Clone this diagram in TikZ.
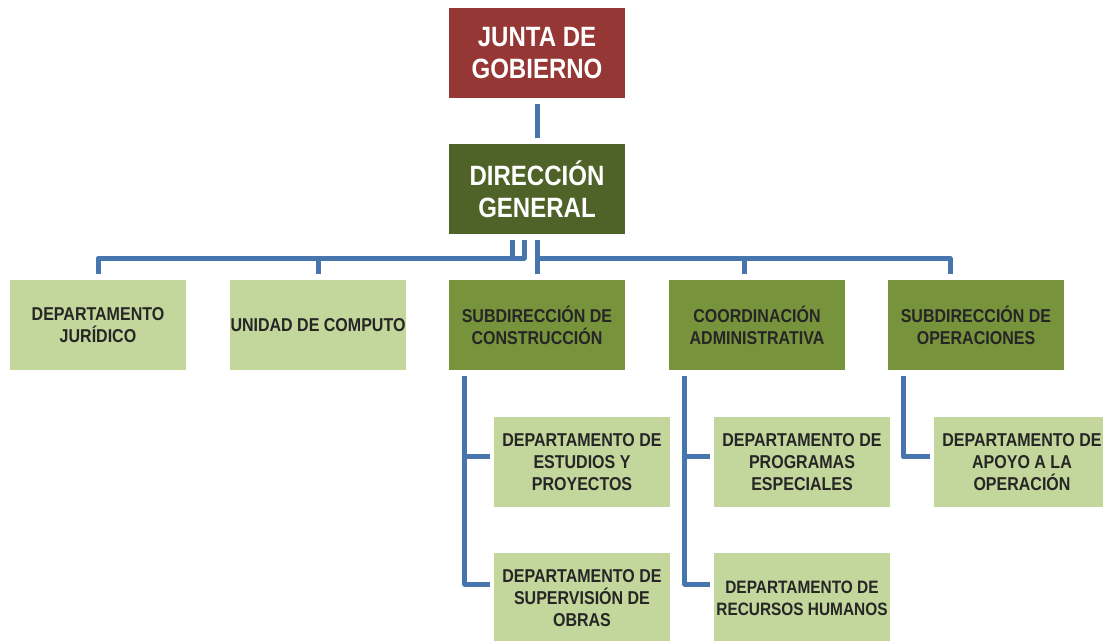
\documentclass[tikz,border=0pt]{standalone}
\usepackage{fontspec}
\setmainfont[FakeStretch=0.86]{Liberation Sans}
\definecolor{juntared}{HTML}{953735}
\definecolor{dirgreen}{HTML}{4F6228}
\definecolor{midgreen}{HTML}{77933C}
\definecolor{lightgreen}{HTML}{C3D69B}
\definecolor{linkblue}{HTML}{4775AE}
\definecolor{darktext}{HTML}{262626}
\begin{document}
\begin{tikzpicture}[x=0.02cm,y=-0.02cm,
    box/.style={rectangle,minimum width=3.52cm,minimum height=1.8cm,inner xsep=0pt,inner ysep=1pt,align=center},
    conn/.style={draw=linkblue,line width=0.1cm,line join=round,shorten <=0.12cm,shorten >=0.12cm}]

        \clip (0,0) rectangle (1103,641);

        \begin{scope}[every node/.style={box,text=white,font=\fontsize{15.9}{18.1}\selectfont\bfseries}]
          \node[fill=juntared] (junta)     at (537,53)  {JUNTA DE\\GOBIERNO};
          \node[fill=dirgreen] (direccion) at (537,189) {DIRECCIÓN\\GENERAL};
        \end{scope}

        \begin{scope}[every node/.style={box,text=darktext,font=\fontsize{10.6}{12.5}\selectfont\bfseries}]
          \node[fill=lightgreen] (juridico)     at (98,325)  {DEPARTAMENTO\\JURÍDICO};
          \node[fill=lightgreen] (computo)      at (318,325) {UNIDAD DE COMPUTO};
          \node[fill=midgreen]   (construccion) at (537,325) {SUBDIRECCIÓN DE\\CONSTRUCCIÓN};
          \node[fill=midgreen]   (coordinacion) at (757,325) {COORDINACIÓN\\ADMINISTRATIVA};
          \node[fill=midgreen]   (operaciones)  at (976,325) {SUBDIRECCIÓN DE\\OPERACIONES};
          \node[fill=lightgreen] (estudios)     at (582,462) {DEPARTAMENTO DE\\ESTUDIOS Y\\PROYECTOS};
          \node[fill=lightgreen] (supervision)  at (582,598) {DEPARTAMENTO DE\\SUPERVISIÓN DE\\OBRAS};
          \node[fill=lightgreen] (programas)    at (802,462) {DEPARTAMENTO DE\\PROGRAMAS\\ESPECIALES};
          \node[fill=lightgreen,font=\fontsize{10.2}{12.5}\selectfont\bfseries]
                                 (recursos)     at (802,598) {DEPARTAMENTO DE\\RECURSOS HUMANOS};
          \node[fill=lightgreen] (apoyo)        at (1022,462) {DEPARTAMENTO DE\\APOYO A LA\\OPERACIÓN};
        \end{scope}

        \begin{scope}[every path/.style={conn}]
          \path (junta) -- (direccion);
          \path ([xshift=-0.5cm]direccion.south) -- ++(0,24) -| (juridico.north);
          \path ([xshift=-0.26cm]direccion.south) -- ++(0,24) -| (computo.north);
          \path (direccion) -- (construccion);
          \path[shorten <=0pt] ([yshift=-0.48cm]direccion.south) -| ([xshift=-0.26cm]coordinacion.north);
          \path[shorten <=0pt] ([yshift=-0.48cm]direccion.south) -| ([xshift=-0.52cm]operaciones.north);
          \path[shorten >=0.08cm] ([xshift=0.32cm]construccion.south west) |- ([yshift=0.1cm]estudios.west);
          \path[shorten >=0.08cm] ([xshift=0.32cm]construccion.south west) |- ([yshift=0.28cm]supervision.west);
          \path[shorten >=0.08cm] ([xshift=0.32cm]coordinacion.south west) |- ([yshift=0.1cm]programas.west);
          \path[shorten >=0.08cm] ([xshift=0.32cm]coordinacion.south west) |- ([yshift=0.28cm]recursos.west);
          \path[shorten >=0.08cm] ([xshift=0.32cm]operaciones.south west) |- ([yshift=0.1cm]apoyo.west);
        \end{scope}

      \end{tikzpicture}
\end{document}
